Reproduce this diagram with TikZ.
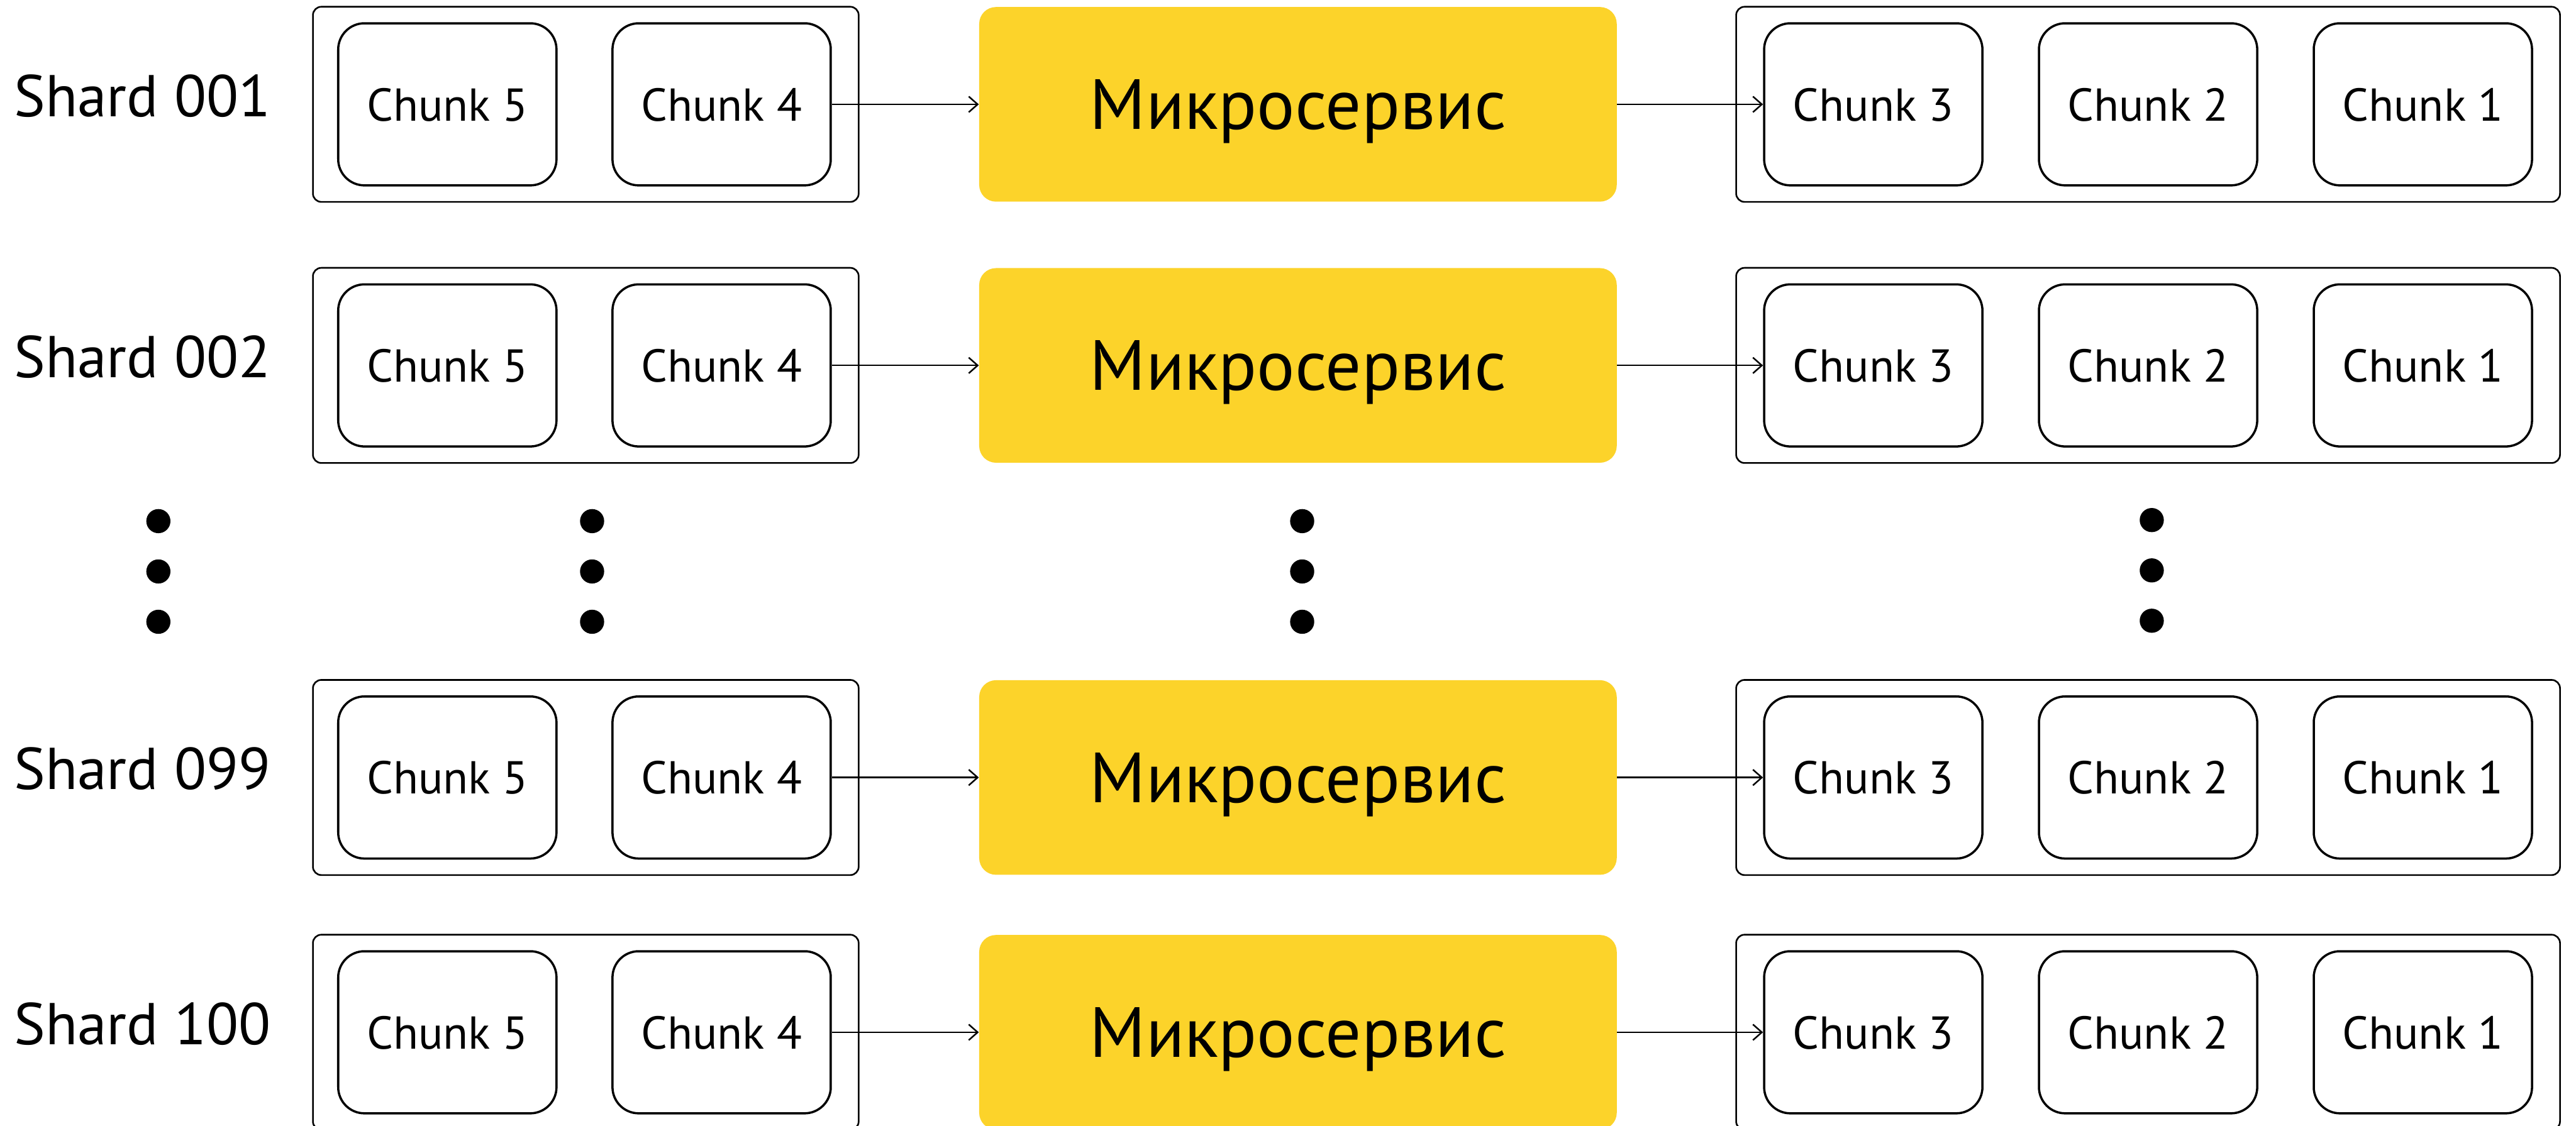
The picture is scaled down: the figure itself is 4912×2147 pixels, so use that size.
\documentclass[tikz,border=0pt]{standalone}
\usepackage{fontspec}
\setmainfont{PT Sans}
\usetikzlibrary{arrows.meta}
\definecolor{msyellow}{HTML}{FCD32A}
\tikzset{
  shardbox/.style={draw, line width=0.9pt, rounded corners=1.6mm, minimum height=37.2mm, inner sep=0pt},
  chunkbox/.style={draw, line width=1.2pt, rounded corners=5mm, minimum width=41.6mm, minimum height=30.9mm,
    inner sep=0pt, font=\fontsize{25}{30}\selectfont, text depth=0pt},
  servicebox/.style={fill=msyellow, rounded corners=3.2mm, minimum width=121.5mm, minimum height=37.1mm,
    inner sep=0pt, font=\fontsize{38.5}{46}\selectfont, text depth=0pt},
  shardlabel/.style={anchor=west, inner sep=0pt, font=\fontsize{32}{38}\selectfont, text depth=0pt},
  flow/.style={line width=0.85pt, -{Straight Barb[length=1.7mm, width=3mm]}},
  ellipsisdot/.style={fill=black}
}
\begin{document}
\begin{tikzpicture}[x=0.01cm, y=-0.01cm]
  \useasboundingbox (0,0) rectangle (4912,2147);
  \clip (0,0) rectangle (4912,2147);

  % one row per shard: queue of pending chunks -> service -> processed chunks
  \foreach \r/\yc/\lab in {a/199/001, b/697/002, c/1483/099, d/1969/100} {
    \node[shardlabel] (lab-\r) at (26,\yc-17) {Shard \lab};

    \node[shardbox, minimum width=104mm] (in-\r) at (1117,\yc) {};
    \node[chunkbox] (c5-\r) at (853,\yc) {Chunk 5};
    \node[chunkbox] (c4-\r) at (1376,\yc) {Chunk 4};

    \node[servicebox] (ms-\r) at (2475,\yc) {Микросервис};

    \node[shardbox, minimum width=157mm] (out-\r) at (4096,\yc) {};
    \node[chunkbox] (c3-\r) at (3572,\yc) {Chunk 3};
    \node[chunkbox] (c2-\r) at (4096,\yc) {Chunk 2};
    \node[chunkbox] (c1-\r) at (4620,\yc) {Chunk 1};

    \draw[flow] (c4-\r.east) -- (ms-\r.west);
    \draw[flow] (ms-\r.east) -- (c3-\r.west);
  }

  % vertical ellipses between shard 002 and shard 099
  \foreach \x in {302,1129,2483} {
    \foreach \y in {994,1090,1186} {
      \fill[ellipsisdot] (\x,\y) circle (2.3mm);
    }
  }
  \foreach \y in {992,1088,1184} {
    \fill[ellipsisdot] (4103,\y) circle (2.3mm);
  }
\end{tikzpicture}
\end{document}
